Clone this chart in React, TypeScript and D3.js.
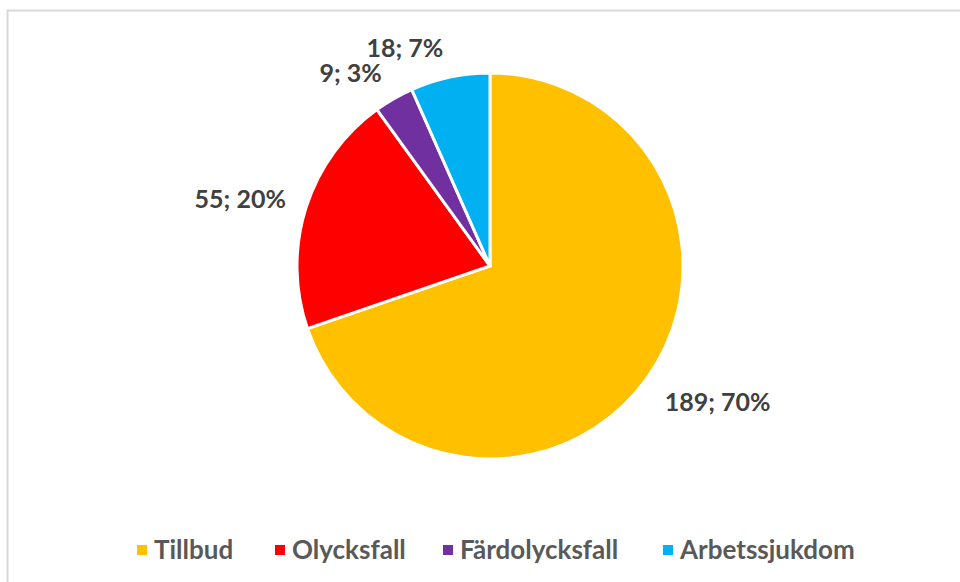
import * as d3 from "d3";

const categories = ["Tillbud", "Olycksfall", "Färdolycksfall", "Arbetssjukdom"];
const counts = [189, 55, 9, 18];
const percentLabels = ["70%", "20%", "3%", "7%"];
const colors = ["#FFC000", "#FF0000", "#7030A0", "#00B0F0"];

const width = 960;
const height = 582;
const cx = 490;
const cy = 266;
const radius = 193;
const font = "Lato, 'Open Sans', sans-serif";

export default function App() {
  const pie = d3
    .pie<number>()
    .value((d) => d)
    .sort(null);
  const arcs = pie(counts);
  const arc = d3.arc<d3.PieArcDatum<number>>().innerRadius(0).outerRadius(radius);

  // legend entries start positions (square left edge)
  const legendX = [137, 275, 443, 663];

  return (
    <svg
      width={width}
      height={height}
      style={{ position: "absolute", left: 0, top: 0 }}
    >
      <rect x={0} y={0} width={width} height={height} fill="#fff" />
      <rect
        x={7.5}
        y={10.5}
        width={width + 20}
        height={height + 20}
        fill="#fff"
        stroke="#d9d9d9"
        strokeWidth={2}
      />
      <g transform={`translate(${cx},${cy})`}>
        {arcs.map((a, i) => (
          <path
            key={categories[i]}
            d={arc(a) ?? ""}
            fill={colors[i]}
            stroke="#fff"
            strokeWidth={3}
          />
        ))}
        {arcs.map((a, i) => {
          const mid = (a.startAngle + a.endAngle) / 2;
          const s = Math.sin(mid);
          const c = Math.cos(mid);
          const r = radius + 18;
          const x = r * s + (s > 0 ? 3 : -3);
          const y = -r * c - 13 * c + (c < 0 ? 5 : 0);
          return (
            <text
              key={"l" + i}
              x={x}
              y={y}
              textAnchor={s > 0 ? "start" : "end"}
              dominantBaseline="central"
              fontFamily={font}
              fontWeight={700}
              fontSize={25}
              fill="#404040"
            >
              {`${counts[i]}; ${percentLabels[i]}`}
            </text>
          );
        })}
      </g>
      <g>
        {categories.map((cat, i) => (
          <g key={cat} transform={`translate(${legendX[i]},0)`}>
            <rect x={0} y={545} width={10} height={10} fill={colors[i]} />
            <text
              x={17}
              y={549}
              dominantBaseline="central"
              fontFamily={font}
              fontWeight={700}
              fontSize={26}
              fill="#595959"
            >
              {cat}
            </text>
          </g>
        ))}
      </g>
    </svg>
  );
}
